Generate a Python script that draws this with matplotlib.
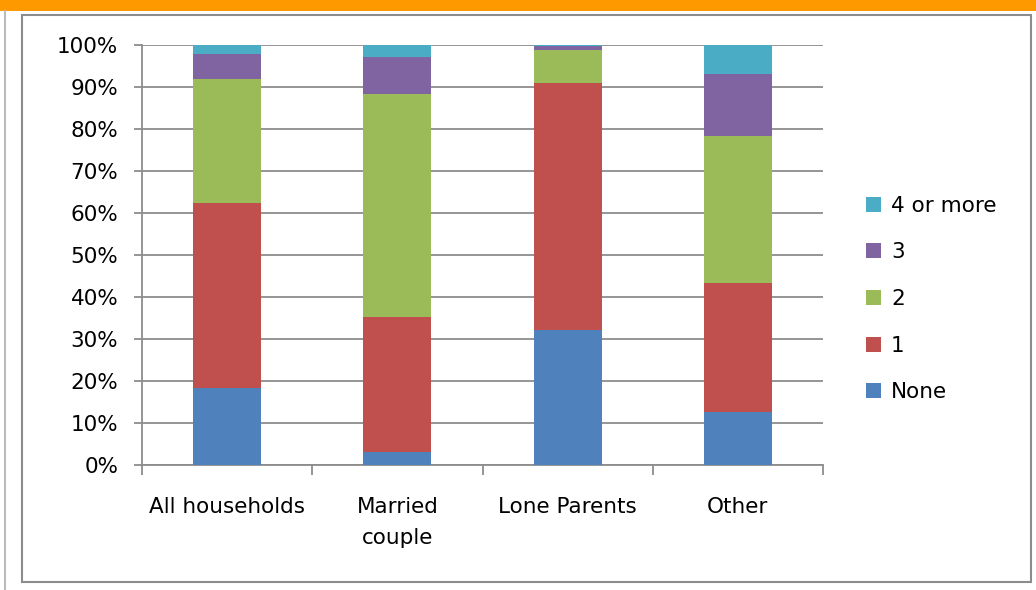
import numpy as np
import matplotlib
matplotlib.use("Agg")
import matplotlib.pyplot as plt
from matplotlib.patches import Rectangle
from matplotlib.lines import Line2D

categories = ["All households", "Married\ncouple", "Lone Parents", "Other"]
series_names = ["None", "1", "2", "3", "4 or more"]
none_vals = [18.4, 3.2, 32.2, 12.7]
one_vals = [44.0, 32.0, 58.8, 30.6]
two_vals = [29.5, 53.1, 7.7, 35.1]
three_vals = [6.0, 8.9, 1.1, 14.8]
four_plus_vals = [2.1, 2.8, 0.2, 6.8]
colors = ["#4F81BD", "#C0504D", "#9BBB59", "#8064A2", "#4BACC6"]

plt.rcParams["font.family"] = ["DejaVu Sans"]
FS = 15.5

fig = plt.figure(figsize=(10.36, 5.90), dpi=100)

# page decorations: orange band on top, grey frames
fig.patches.append(Rectangle((0, 1 - 11 / 590), 1, 11 / 590, transform=fig.transFigure,
                             facecolor="#FF9900", edgecolor="none", zorder=0))
fig.lines.append(Line2D([5 / 1036, 5 / 1036], [0, 1 - 11 / 590], transform=fig.transFigure,
                        color="#BBBBBB", lw=1.5))
fig.patches.append(Rectangle((22 / 1036, 8 / 590), (1031 - 22) / 1036, (575 - 8) / 590,
                             transform=fig.transFigure, facecolor="none",
                             edgecolor="#8C8C8C", lw=1.5, zorder=1))

ax = fig.add_axes([142 / 1036, 125 / 590, 681 / 1036, 420 / 590])

x = np.arange(len(categories))
data = [none_vals, one_vals, two_vals, three_vals, four_plus_vals]
bottom = np.zeros(len(categories))
handles = []
for vals, name, c in zip(data, series_names, colors):
    h = ax.bar(x, vals, bottom=bottom, width=0.4, color=c, label=name, zorder=3)
    handles.append(h)
    bottom += np.array(vals)

ax.set_xlim(-0.5, len(categories) - 0.5)
ax.set_ylim(0, 100)
ax.set_yticks(np.arange(0, 101, 10))
ax.set_yticklabels([f"{v}%" for v in range(0, 101, 10)], fontsize=FS)
ax.yaxis.grid(True, color="#8C8C8C", lw=1.3, zorder=0)
ax.set_axisbelow(True)

ax.set_xticks(x)
ax.set_xticklabels(categories, fontsize=FS, linespacing=1.72)
ax.set_xticks(np.arange(-0.5, len(categories)), minor=True)
ax.tick_params(axis="x", which="major", length=0, pad=23)
ax.tick_params(axis="x", which="minor", length=7, color="#8C8C8C", width=1.3)
ax.tick_params(axis="y", length=6, color="#8C8C8C", width=1.3, pad=11)

for s in ["top", "right"]:
    ax.spines[s].set_visible(False)
for s in ["left", "bottom"]:
    ax.spines[s].set_color("#8C8C8C")
    ax.spines[s].set_linewidth(1.3)

leg = ax.legend(handles[::-1], series_names[::-1], loc="center left",
                bbox_to_anchor=(1.035, 0.395), frameon=False, fontsize=FS,
                handlelength=0.7, handleheight=0.7, handletextpad=0.45,
                labelspacing=1.24)

fig.savefig("out.png", dpi=100)
